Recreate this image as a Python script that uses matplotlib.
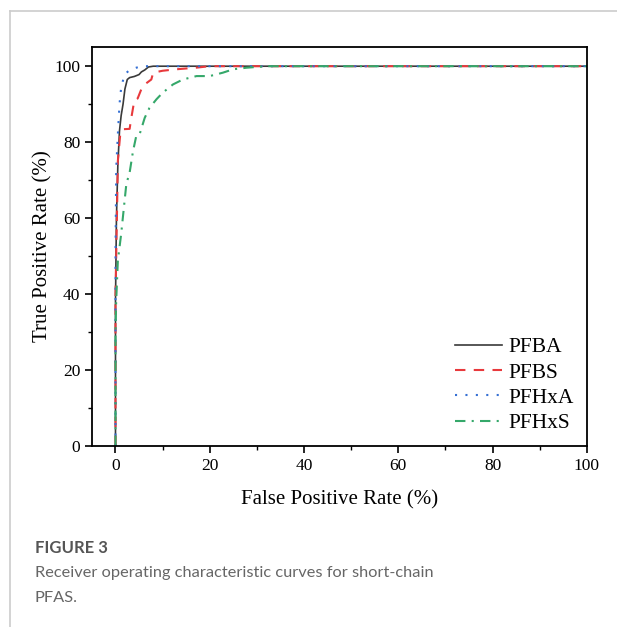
import numpy as np
import matplotlib.pyplot as plt
from matplotlib.lines import Line2D

# ROC curves (FPR %, TPR %)
pfba_x = [0, 0, 0.2, 0.5, 0.85, 1.2, 1.6, 2.0, 2.5, 3.0, 4.0, 5.0, 5.5, 6.2, 7.0, 8.0, 100]
pfba_y = [0, 38, 60, 74, 83, 87, 90, 94, 96.5, 97, 97.3, 97.8, 98.5, 99, 99.8, 100, 100]

pfbs_x = [0, 0, 0.3, 0.5, 1.0, 1.5, 3.0, 3.3, 4.0, 4.7, 5.5, 6.2, 7.6, 8.0, 10, 13, 17, 20, 100]
pfbs_y = [0, 40, 60, 75, 82, 83.4, 83.5, 86, 91, 91.5, 94, 95.2, 96.5, 98.3, 98.8, 99.2, 99.6, 100, 100]

pfhxa_x = [0, 0, 0.15, 0.5, 0.85, 1.2, 1.9, 3.0, 4.4, 5.5, 100]
pfhxa_y = [0, 50, 73, 82, 90, 94.3, 97.8, 99, 99.6, 100, 100]

pfhxs_x = [0, 0, 0.14, 0.5, 1.2, 2.3, 3.0, 3.7, 4.4, 5.1, 6.2, 7.2, 8.7, 10, 12.2, 14.3,
           17.2, 20, 22.8, 25, 27.8, 32, 100]
pfhxs_y = [0, 30, 38, 48.8, 55.8, 69, 72, 77.5, 81.6, 82, 86.4, 89, 91.3, 93, 95.2, 96.5,
           97.4, 97.4, 98.3, 99.2, 99.6, 100, 100]

labels = ["PFBA", "PFBS", "PFHxA", "PFHxS"]
colors = ["#3a3a3a", "#e8393c", "#3570d4", "#35a86a"]
styles = ["-", (0, (5, 4)), (0, (1, 4)), (0, (5, 3, 1, 3))]

plt.rcParams['font.family'] = ['Liberation Serif', 'DejaVu Serif']

fig = plt.figure(figsize=(6.17, 6.27), dpi=100)
ax = fig.add_axes([0.149, 0.2887, 0.802, 0.636])

series = [(pfba_x, pfba_y), (pfbs_x, pfbs_y), (pfhxa_x, pfhxa_y), (pfhxs_x, pfhxs_y)]
for (x, y), lab, c, ls in zip(series, labels, colors, styles):
    lw = 1.2 if lab == "PFBA" else 1.5
    ax.plot(x, y, color=c, linestyle=ls, linewidth=lw, label=lab)

ax.set_xlim(-5, 100)
ax.set_ylim(0, 105)
ax.set_xticks(range(0, 101, 20))
ax.set_xticks(range(10, 100, 20), minor=True)
ax.set_yticks(range(0, 101, 20))
ax.set_yticks(range(10, 100, 20), minor=True)
ax.tick_params(which='major', direction='out', length=5, width=1.2, labelsize=12.5)
ax.tick_params(which='minor', direction='out', length=3, width=1.0)
for s in ax.spines.values():
    s.set_linewidth(1.3)

ax.set_xlabel("False Positive Rate (%)", fontsize=15, labelpad=11.5)
ax.set_ylabel("True Positive Rate (%)", fontsize=15, labelpad=1)

ax.legend(loc='lower right', frameon=False, fontsize=15.5, handlelength=2.2,
          handletextpad=0.3, labelspacing=0.24, borderaxespad=0.2)

# page frame lines
fig.add_artist(Line2D([9.5 / 617, 9.5 / 617], [0, 1 - 11 / 627], color='#cccccc', lw=1.2))
fig.add_artist(Line2D([9.5 / 617, 1], [1 - 11 / 627, 1 - 11 / 627], color='#cccccc', lw=1.2))

cap_font = ['Lato', 'DejaVu Sans']
fig.text(35 / 617, 1 - 548 / 627, "FIGURE 3", fontsize=12, fontweight='bold',
         color='#555555', family=cap_font, va='center')
fig.text(35 / 617, 1 - 573 / 627, "Receiver operating characteristic curves for short-chain",
         fontsize=11.8, color='#666666', family=cap_font, va='center')
fig.text(35 / 617, 1 - 598 / 627, "PFAS.", fontsize=11.8, color='#666666',
         family=cap_font, va='center')

fig.savefig("out.png", dpi=100)
